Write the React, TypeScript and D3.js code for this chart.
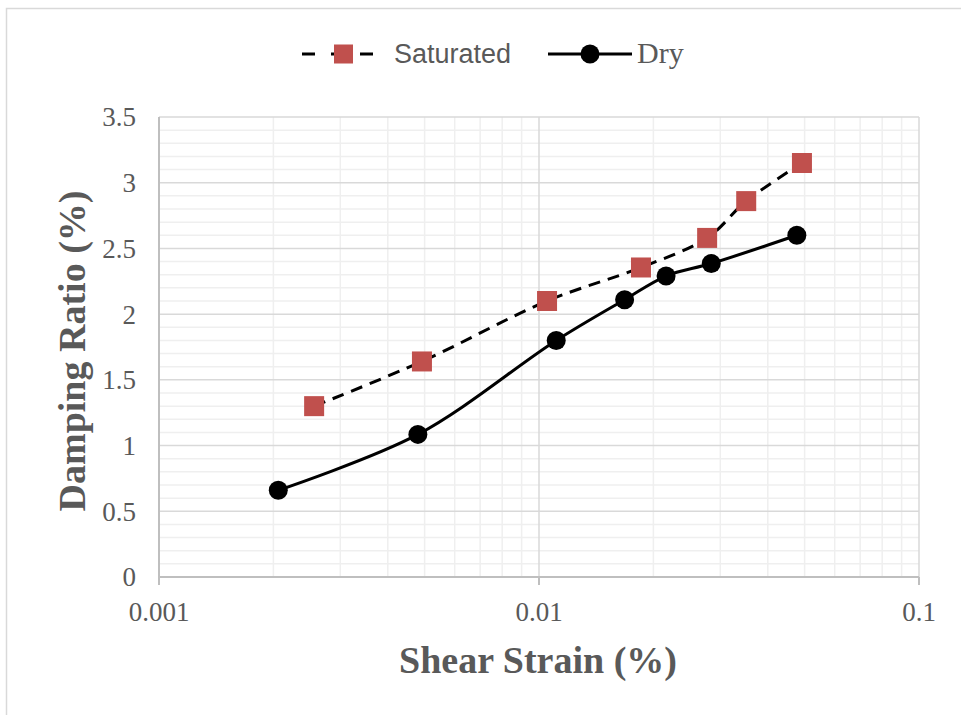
import React from 'react'
import * as d3 from 'd3'

// shear strain (%) and damping ratio (%)
const satStrain = [0.00256, 0.00492, 0.0105, 0.01855, 0.0277, 0.0351, 0.0492]
const satDamping = [1.30, 1.64, 2.10, 2.355, 2.58, 2.86, 3.15]
const dryStrain = [0.00206, 0.0048, 0.0111, 0.0168, 0.0216, 0.0284, 0.0477]
const dryDamping = [0.66, 1.085, 1.80, 2.11, 2.29, 2.385, 2.60]

const xTicks = [0.001, 0.01, 0.1]
const xTickLabels = ['0.001', '0.01', '0.1']
const yTicks = [0, 0.5, 1, 1.5, 2, 2.5, 3, 3.5]
const yTickLabels = ['0', '0.5', '1', '1.5', '2', '2.5', '3', '3.5']

const W = 961, H = 715
const margin = { left: 159, right: 42, top: 117, bottom: 138 }
const font = '"Liberation Serif", "Times New Roman", serif'
const sans = '"Liberation Sans", Arial, sans-serif'
const grey = '#595959'

export default function App() {
  const x = d3.scaleLog().domain([0.001, 0.1]).range([margin.left, W - margin.right])
  const y = d3.scaleLinear().domain([0, 3.5]).range([H - margin.bottom, margin.top])

  const sat = satStrain.map((s, i) => [s, satDamping[i]] as [number, number])
  const dry = dryStrain.map((s, i) => [s, dryDamping[i]] as [number, number])

  const line = d3.line<[number, number]>()
    .x(d => x(d[0]))
    .y(d => y(d[1]))
    .curve(d3.curveCatmullRom.alpha(0.5))

  // minor verticals at 2..9 of each decade
  const minorX: number[] = []
  ;[0.001, 0.01].forEach(dec => {
    for (let k = 2; k <= 9; k++) minorX.push(dec * k)
  })
  const minorY = d3.range(0, 36).map(v => v / 10).filter(v => Math.round(v * 10) % 5 !== 0)

  const x0 = margin.left, x1 = W - margin.right
  const y0 = H - margin.bottom, y1 = margin.top

  return (
    <svg width={W} height={H} style={{ position: 'absolute', left: 0, top: 0, background: '#fff' }}>
      <rect x={6.5} y={8.5} width={W} height={H} fill="none" stroke="#d9d9d9" strokeWidth={1.5} />

      {/* minor grid */}
      {minorY.map(v => (
        <line key={'my' + v} x1={x0} x2={x1} y1={y(v)} y2={y(v)} stroke="#efefef" strokeWidth={1.5} />
      ))}
      {minorX.map(v => (
        <line key={'mx' + v} x1={x(v)} x2={x(v)} y1={y0} y2={y1} stroke="#efefef" strokeWidth={1.5} />
      ))}
      {/* major grid */}
      {yTicks.map(v => (
        <line key={'gy' + v} x1={x0} x2={x1} y1={y(v)} y2={y(v)} stroke="#d9d9d9" strokeWidth={1.5} />
      ))}
      {xTicks.map(v => (
        <line key={'gx' + v} x1={x(v)} x2={x(v)} y1={y0} y2={y1} stroke="#d9d9d9" strokeWidth={1.5} />
      ))}

      {/* axes */}
      <line x1={x0} x2={x1} y1={y0} y2={y0} stroke="#bfbfbf" strokeWidth={2} />
      <line x1={x0} x2={x0} y1={y0} y2={y1} stroke="#bfbfbf" strokeWidth={2} />
      {xTicks.map(v => (
        <line key={'tx' + v} x1={x(v)} x2={x(v)} y1={y0} y2={y0 + 8} stroke="#bfbfbf" strokeWidth={2} />
      ))}

      {/* tick labels */}
      {yTicks.map((v, i) => (
        <text key={'ly' + v} x={136} y={y(v)} dy="0.35em" textAnchor="end"
          fontFamily={font} fontSize={27} fill={grey}>{yTickLabels[i]}</text>
      ))}
      {xTicks.map((v, i) => (
        <text key={'lx' + v} x={x(v)} y={621} textAnchor="middle"
          fontFamily={font} fontSize={27} fill={grey}>{xTickLabels[i]}</text>
      ))}

      {/* series */}
      <path d={line(sat) || ''} fill="none" stroke="#000" strokeWidth={3} strokeDasharray="12,8" />
      {sat.map((d, i) => (
        <rect key={'s' + i} x={x(d[0]) - 10} y={y(d[1]) - 10} width={20} height={20} fill="#c0504d" />
      ))}
      <path d={line(dry) || ''} fill="none" stroke="#000" strokeWidth={3} />
      {dry.map((d, i) => (
        <circle key={'d' + i} cx={x(d[0])} cy={y(d[1])} r={9.5} fill="#000" />
      ))}

      {/* axis titles */}
      <text x={538} y={673} textAnchor="middle" fontFamily={font} fontSize={38}
        fontWeight="bold" fill={grey}>Shear Strain (%)</text>
      <text transform="translate(85,351) rotate(-90)" textAnchor="middle" fontFamily={font}
        fontSize={38} fontWeight="bold" fill={grey}>Damping Ratio (%)</text>

      {/* legend */}
      <line x1={302} x2={373} y1={54} y2={54} stroke="#000" strokeWidth={3} strokeDasharray="13,16" />
      <rect x={334} y={44.5} width={19} height={19} fill="#c0504d" />
      <text x={394} y={63} fontFamily={sans} fontSize={27} fill={grey}>Saturated</text>
      <line x1={548} x2={632} y1={54} y2={54} stroke="#000" strokeWidth={3} />
      <circle cx={590} cy={54} r={9.5} fill="#000" />
      <text x={637} y={63} fontFamily={font} fontSize={30} fill={grey}>Dry</text>
    </svg>
  )
}
